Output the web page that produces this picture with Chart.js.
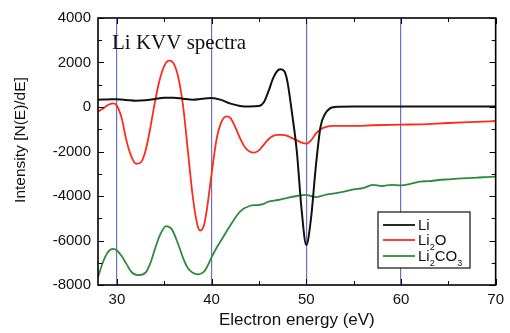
<!DOCTYPE html>
<html>
<head>
<meta charset="utf-8">
<script src="https://cdn.jsdelivr.net/npm/chart.js@4.4.1/dist/chart.umd.min.js"></script>
<style>
  html, body { margin: 0; padding: 0; background: #fff; }
</style>
</head>
<body>
<canvas id="spectra" width="510" height="333"></canvas>
<script>
// --- Li KVV Auger spectra, derivative mode ---
const liEnergy = [28, 29, 30, 31, 32, 33, 34, 35, 36, 37, 38, 39, 40, 41, 42, 43, 44, 45, 45.5, 46, 46.5, 47, 47.3, 47.7, 48, 48.5, 49, 49.5, 50, 50.5, 51, 51.5, 52, 52.5, 53, 55, 60, 65, 70];
const liValues = [330, 340, 350, 320, 280, 300, 360, 420, 420, 370, 330, 370, 400, 320, 150, 50, 20, 40, 200, 700, 1300, 1650, 1700, 1600, 1150, -300, -2000, -4600, -6200, -5000, -2700, -900, -300, -60, 0, 20, 20, 20, 20];

const li2oEnergy = [28, 28.5, 29, 29.6, 30, 30.5, 31, 31.5, 32, 32.5, 33, 33.5, 34, 34.5, 35, 35.5, 36, 36.5, 37, 37.5, 38, 38.5, 38.8, 39.2, 39.5, 40, 40.5, 41, 41.6, 42, 42.5, 43, 43.5, 44, 44.5, 45, 45.5, 46, 46.5, 47, 47.5, 48, 48.5, 49, 49.5, 50, 50.5, 51, 51.5, 52, 53, 55, 57, 60, 62, 65, 68, 70];
const li2oValues = [-200, -80, 80, 160, 60, -500, -1500, -2200, -2550, -2500, -2000, -1000, 200, 1200, 1850, 2080, 1950, 1300, 0, -2000, -4000, -5300, -5550, -5300, -4600, -3000, -1500, -700, -420, -500, -900, -1400, -1800, -2000, -2050, -1950, -1700, -1450, -1300, -1250, -1250, -1300, -1400, -1500, -1600, -1650, -1500, -1200, -1000, -900, -850, -850, -820, -790, -780, -720, -670, -630];

const li2co3Energy = [28, 28.5, 29, 29.6, 30, 30.5, 31, 31.5, 32.2, 33, 33.5, 34, 34.5, 35.2, 35.8, 36.5, 37, 37.5, 38, 38.6, 39.2, 39.5, 40, 40.5, 41, 42, 43, 44, 45, 45.5, 46, 47, 48, 49, 50, 50.5, 51, 52, 53, 54, 55, 56, 57, 58, 59, 60, 61, 62, 63, 64, 65, 66, 67, 68, 69, 70];
const li2co3Values = [-7650, -7000, -6550, -6380, -6450, -6700, -7050, -7400, -7560, -7450, -7050, -6400, -5800, -5350, -5500, -6200, -6800, -7250, -7450, -7520, -7400, -7200, -6750, -6350, -6000, -5300, -4700, -4450, -4400, -4350, -4250, -4180, -4080, -4000, -3950, -4000, -4050, -3950, -3880, -3800, -3700, -3650, -3500, -3550, -3500, -3520, -3450, -3350, -3330, -3280, -3250, -3220, -3200, -3170, -3150, -3130];

const seriesLabels = ['Li', 'Li2O', 'Li2CO3'];
const seriesColors = ['#111111', '#ff2a1a', '#2f8a3a'];
const markerEnergies = [30, 40, 50, 60];
const xRange = [28, 70];
const yRange = [-8000, 4000];

const sansFont = "'Liberation Sans', Arial, sans-serif";
const serifFont = "'Liberation Serif', 'Times New Roman', serif";

function toPoints(xs, ys) {
  return xs.map((x, i) => ({ x: x, y: ys[i] }));
}

// draws text, rendering digits as subscripts (Li2CO3 -> Li₂CO₃)
function drawChemText(ctx, text, x, y, size) {
  let cx = x;
  for (const ch of text) {
    if (/[0-9]/.test(ch)) {
      ctx.font = Math.round(size * 0.62) + 'px ' + sansFont;
      ctx.fillText(ch, cx, y + size * 0.3);
    } else {
      ctx.font = size + 'px ' + sansFont;
      ctx.fillText(ch, cx, y);
    }
    cx += ctx.measureText(ch).width;
  }
}

// frame, inward ticks, caption, y title and legend box
const decorations = {
  id: 'decorations',
  afterDatasetsDraw(chart) {
    const { ctx, chartArea: a, scales: { x, y } } = chart;
    ctx.save();
    ctx.strokeStyle = '#000';
    ctx.lineWidth = 1;
    ctx.beginPath();
    x.ticks.forEach(t => {
      if (t.value % 5 !== 0) return;
      const px = Math.round(x.getPixelForValue(t.value)) + 0.5;
      const len = t.value % 10 === 0 ? 6 : 4;
      ctx.moveTo(px, a.bottom); ctx.lineTo(px, a.bottom - len);
      ctx.moveTo(px, a.top); ctx.lineTo(px, a.top + len);
    });
    y.ticks.forEach(t => {
      const py = Math.round(y.getPixelForValue(t.value)) + 0.5;
      const len = t.value % 2000 === 0 ? 6 : 4;
      ctx.moveTo(a.left, py); ctx.lineTo(a.left + len, py);
      ctx.moveTo(a.right, py); ctx.lineTo(a.right - len, py);
    });
    ctx.stroke();

    ctx.lineWidth = 1.6;
    ctx.strokeRect(a.left, a.top, a.right - a.left, a.bottom - a.top);

    // caption inside the plot
    ctx.fillStyle = '#111';
    ctx.font = '21px ' + serifFont;
    ctx.textAlign = 'left';
    ctx.textBaseline = 'alphabetic';
    ctx.fillText('Li KVV spectra', 112, 49);

    // y axis title
    ctx.save();
    ctx.translate(21, 140);
    ctx.rotate(-Math.PI / 2);
    ctx.textAlign = 'center';
    ctx.textBaseline = 'middle';
    ctx.font = '15.5px ' + sansFont;
    ctx.fillText('Intensity [N(E)/dE]', 0, 0);
    ctx.restore();

    // legend
    const box = { left: 378, top: 212, right: 470, bottom: 268 };
    ctx.fillStyle = '#fff';
    ctx.fillRect(box.left, box.top, box.right - box.left, box.bottom - box.top);
    ctx.strokeStyle = '#222';
    ctx.lineWidth = 1.3;
    ctx.strokeRect(box.left, box.top, box.right - box.left, box.bottom - box.top);
    const rows = [225, 240, 256];
    chart.data.datasets.forEach((ds, i) => {
      ctx.strokeStyle = ds.borderColor;
      ctx.lineWidth = 1.8;
      ctx.beginPath();
      ctx.moveTo(383, rows[i]);
      ctx.lineTo(415, rows[i]);
      ctx.stroke();
      ctx.fillStyle = '#111';
      ctx.textBaseline = 'alphabetic';
      drawChemText(ctx, ds.label, 418, rows[i] + 5, 15);
    });
    ctx.restore();
  }
};

const datasets = [
  { label: seriesLabels[0], data: toPoints(liEnergy, liValues), borderColor: seriesColors[0], borderWidth: 2 },
  { label: seriesLabels[1], data: toPoints(li2oEnergy, li2oValues), borderColor: seriesColors[1], borderWidth: 1.8 },
  { label: seriesLabels[2], data: toPoints(li2co3Energy, li2co3Values), borderColor: seriesColors[2], borderWidth: 1.8 }
].map(ds => Object.assign(ds, {
  fill: false,
  pointRadius: 0,
  cubicInterpolationMode: 'monotone'
}));

new Chart(document.getElementById('spectra').getContext('2d'), {
  type: 'line',
  data: { datasets: datasets },
  plugins: [decorations],
  options: {
    responsive: false,
    animation: false,
    layout: { padding: { top: 18, right: 8, bottom: 0, left: 0 } },
    plugins: {
      legend: { display: false },
      tooltip: { enabled: false }
    },
    scales: {
      x: {
        type: 'linear',
        min: xRange[0],
        max: xRange[1],
        afterFit: s => { s.height = 48; },
        border: { display: false },
        grid: {
          drawTicks: false,
          lineWidth: 1.2,
          color: c => markerEnergies.includes(c.tick && c.tick.value) ? '#6474c8' : 'rgba(0,0,0,0)'
        },
        ticks: {
          stepSize: 5,
          includeBounds: false,
          autoSkip: false,
          maxRotation: 0,
          padding: 6,
          color: '#111',
          font: { family: sansFont, size: 15 },
          callback: v => (v % 10 === 0 ? v : '')
        },
        title: {
          display: true,
          text: 'Electron energy (eV)',
          color: '#111',
          font: { family: sansFont, size: 17 },
          padding: { top: 0, bottom: 2 }
        }
      },
      y: {
        min: yRange[0],
        max: yRange[1],
        afterFit: s => { s.width = 98; },
        border: { display: false },
        grid: { display: false, drawTicks: false },
        ticks: {
          stepSize: 1000,
          autoSkip: false,
          padding: 7,
          color: '#111',
          font: { family: sansFont, size: 15 },
          callback: v => (v % 2000 === 0 ? v : '')
        }
      }
    }
  }
});
</script>
</body>
</html>
